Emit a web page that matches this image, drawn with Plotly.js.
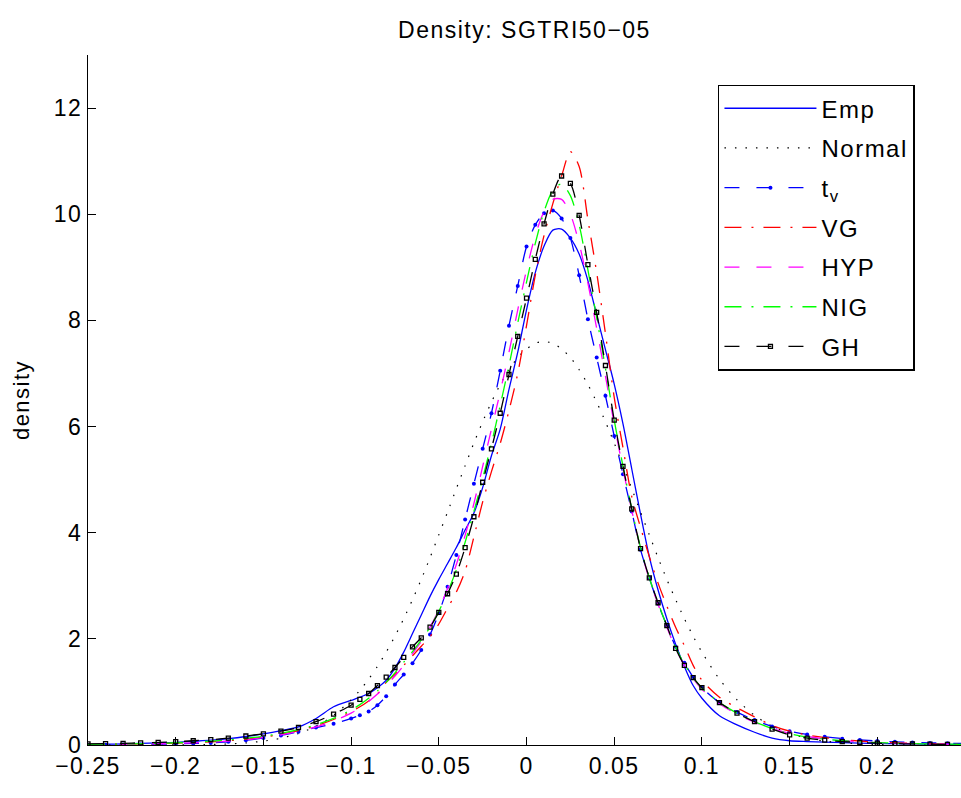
<!DOCTYPE html>
<html><head><meta charset="utf-8">
<script src="https://cdn.plot.ly/plotly-3.0.1.min.js"></script>
<style>
html,body{margin:0;padding:0;background:#fff;}
#chart{width:961px;height:798px;}
svg text{letter-spacing:1.5px;}
</style>
</head><body><div id="chart"></div>
<script>
const titleText = 'Density: SGTRI50\u221205';
const seriesNames = ['Emp', 'Normal', 't<sub>v</sub>', 'VG', 'HYP', 'NIG', 'GH'];

const xGrid = [-0.25,-0.24,-0.23,-0.22,-0.21,-0.20,-0.19,-0.18,-0.17,-0.16,-0.15,-0.14,-0.13,-0.12,-0.11,
  -0.10,-0.095,-0.09,-0.085,-0.08,-0.075,-0.07,-0.065,-0.06,-0.055,
  -0.05,-0.045,-0.04,-0.035,-0.03,-0.025,-0.02,-0.015,-0.01,-0.005,
  0,0.005,0.01,0.015,0.02,0.025,0.03,0.035,0.04,0.045,
  0.05,0.055,0.06,0.065,0.07,0.075,0.08,0.085,0.09,0.095,0.10,
  0.11,0.12,0.13,0.14,0.15,0.16,0.17,0.18,0.19,0.20,0.21,0.22,0.23,0.24,0.25];

const empY = [0.01,0.015,0.02,0.03,0.04,0.05,0.07,0.09,0.12,0.16,0.21,0.27,0.34,0.50,0.72,
  0.84,0.90,0.97,1.08,1.22,1.45,1.75,2.10,2.45,2.80,
  3.12,3.42,3.72,4.05,4.37,4.85,5.45,5.95,6.70,7.40,
  8.20,8.90,9.40,9.70,9.72,9.55,9.25,8.75,8.10,7.45,
  6.80,6.05,5.20,4.35,3.55,2.92,2.38,1.90,1.48,1.12,0.88,
  0.55,0.38,0.24,0.13,0.08,0.065,0.055,0.045,0.035,0.03,0.025,0.02,0.015,0.012,0.01];

const normalY = [0,0,0,0,0,0.003,0.005,0.011,0.021,0.04,0.073,0.128,0.217,0.354,0.558,
  0.85,1.03,1.24,1.48,1.75,2.05,2.38,2.74,3.12,3.53,
  3.96,4.39,4.83,5.26,5.69,6.09,6.46,6.79,7.07,7.30,
  7.46,7.57,7.60,7.57,7.46,7.30,7.07,6.79,6.46,6.09,
  5.69,5.26,4.83,4.39,3.96,3.53,3.12,2.74,2.38,2.05,1.75,
  1.24,0.85,0.558,0.354,0.217,0.128,0.073,0.04,0.021,0.011,0.005,0.003,0.001,0,0];

const tvY = [0.005,0.006,0.008,0.011,0.015,0.02,0.03,0.04,0.06,0.09,0.13,0.18,0.25,0.33,0.40,
  0.50,0.56,0.63,0.75,0.92,1.14,1.33,1.54,1.79,2.08,
  2.48,2.98,3.58,4.25,4.92,5.58,6.25,7.05,7.90,8.65,
  9.39,9.80,10.02,10.07,9.92,9.55,8.85,8.02,7.30,6.58,
  5.82,5.10,4.40,3.68,3.15,2.66,2.25,1.85,1.55,1.28,1.08,
  0.80,0.62,0.47,0.35,0.26,0.20,0.155,0.12,0.095,0.075,0.06,0.048,0.04,0.033,0.028];

const vgY = [0.01,0.012,0.016,0.02,0.026,0.034,0.045,0.06,0.08,0.11,0.15,0.20,0.27,0.36,0.48,
  0.63,0.72,0.83,0.96,1.18,1.33,1.50,1.68,1.86,2.04,
  2.28,2.58,2.88,3.28,3.92,4.58,5.15,5.68,6.30,7.00,
  7.90,8.85,9.60,10.20,10.72,11.18,10.90,9.90,8.90,7.75,
  6.55,5.60,4.68,4.10,3.55,3.05,2.62,2.22,1.87,1.50,1.22,
  0.90,0.70,0.53,0.37,0.26,0.19,0.14,0.10,0.075,0.055,0.04,0.03,0.022,0.016,0.012];

const hypY = [0.008,0.01,0.013,0.017,0.022,0.03,0.04,0.055,0.075,0.10,0.14,0.19,0.26,0.34,0.45,
  0.60,0.70,0.82,0.96,1.12,1.30,1.50,1.72,1.95,2.22,
  2.55,2.95,3.40,3.95,4.55,5.25,5.95,6.65,7.40,8.20,
  8.95,9.60,10.05,10.28,10.28,10.00,9.45,8.70,7.85,6.95,
  6.05,5.20,4.42,3.70,3.12,2.65,2.22,1.82,1.50,1.25,1.05,
  0.78,0.58,0.43,0.31,0.22,0.16,0.115,0.085,0.06,0.045,0.033,0.025,0.018,0.014,0.01];

const nigY = [0.012,0.015,0.019,0.025,0.032,0.042,0.055,0.072,0.095,0.125,0.165,0.22,0.29,0.38,0.50,
  0.66,0.76,0.88,1.02,1.18,1.36,1.56,1.76,1.98,2.22,
  2.52,2.88,3.30,3.82,4.40,5.02,5.68,6.40,7.15,7.95,
  8.72,9.45,10.05,10.45,10.57,10.35,9.80,8.95,8.05,7.10,
  6.12,5.25,4.45,3.72,3.15,2.68,2.24,1.84,1.52,1.27,1.07,
  0.80,0.60,0.44,0.31,0.21,0.15,0.11,0.08,0.06,0.045,0.034,0.026,0.02,0.015,0.012];

const ghY = [0.02,0.025,0.032,0.04,0.05,0.062,0.08,0.10,0.13,0.17,0.21,0.26,0.33,0.44,0.58,
  0.75,0.86,0.97,1.12,1.28,1.46,1.65,1.85,2.02,2.22,
  2.50,2.85,3.22,3.72,4.30,4.95,5.58,6.25,6.98,7.70,
  8.42,9.15,9.82,10.38,10.72,10.58,9.98,9.05,8.15,7.15,
  6.12,5.25,4.45,3.70,3.15,2.68,2.25,1.82,1.50,1.27,1.08,
  0.80,0.60,0.44,0.30,0.19,0.13,0.09,0.065,0.048,0.035,0.026,0.02,0.015,0.012,0.01];

const xTickVals = [-0.25,-0.2,-0.15,-0.1,-0.05,0,0.05,0.1,0.15,0.2];
const xTickText = ['\u22120.25','\u22120.2','\u22120.15','\u22120.1','\u22120.05','0','0.05','0.1','0.15','0.2'];
const yTickVals = [0,2,4,6,8,10,12];
const yTickText = ['0','2','4','6','8','10','12'];

const ys = [empY, normalY, tvY, vgY, hypY, nigY, ghY];
const styles = [
  {line: {color: '#0000ff', width: 1.3, dash: 'solid'}, mode: 'lines'},
  {line: {color: '#000000', width: 1.2, dash: '1.5px,9px'}, mode: 'lines'},
  {line: {color: '#0000ff', width: 1.3, dash: '15px,17px'}, mode: 'lines+markers', marker: {symbol: 'circle', size: 4, color: '#0000ff'}},
  {line: {color: '#ff0000', width: 1.3, dash: '17px,10px,2px,10px'}, mode: 'lines'},
  {line: {color: '#ff00ff', width: 1.3, dash: '15px,17px'}, mode: 'lines'},
  {line: {color: '#00ff00', width: 1.3, dash: '17px,10px,2px,10px'}, mode: 'lines'},
  {line: {color: '#000000', width: 1.3, dash: '15px,17px'}, mode: 'lines+markers', marker: {symbol: 'square-open', size: 4, color: '#000000', line: {width: 1.3, color: '#000000'}}}
];

const traces = seriesNames.map((name, i) => Object.assign({
  type: 'scatter', x: xGrid, y: ys[i], name: name, legendgroup: 'g' + i, cliponaxis: true
}, styles[i], {line: Object.assign({shape: 'spline', smoothing: 0.8}, styles[i].line)}));

const layout = {
  width: 961, height: 798,
  margin: {l: 88, r: 0, t: 55, b: 53, pad: 0},
  paper_bgcolor: '#ffffff', plot_bgcolor: '#ffffff',
  font: {family: '"Liberation Sans", Arial, Helvetica, sans-serif', size: 22, color: '#000'},
  title: {text: titleText, font: {size: 23, color: '#000'}, x: 0.5, xref: 'paper', xanchor: 'center',
          y: 1 - 30/798, yref: 'container', yanchor: 'middle'},
  xaxis: {range: [-0.25, 0.2477], tickmode: 'array', tickvals: xTickVals, ticktext: xTickText,
          ticks: 'inside', ticklen: 8, tickwidth: 1, tickcolor: '#000', showline: true, linecolor: '#000',
          linewidth: 1, showgrid: false, zeroline: false, tickfont: {size: 23}},
  yaxis: {range: [0, 13], tickmode: 'array', tickvals: yTickVals, ticktext: yTickText,
          ticks: 'inside', ticklen: 8, tickwidth: 1, tickcolor: '#000', showline: true, linecolor: '#000',
          linewidth: 1, showgrid: false, zeroline: false, tickfont: {size: 23},
          title: {text: 'density', font: {size: 22}, standoff: 18}},
  legend: {x: 0.7216, y: 0.957, xanchor: 'left', yanchor: 'top', bgcolor: '#ffffff', bordercolor: '#000',
           borderwidth: 1.5, font: {size: 24}, itemwidth: 92, tracegroupgap: 5.5, traceorder: 'grouped'},
  showlegend: true
};

Plotly.newPlot('chart', traces, layout, {staticPlot: true, displayModeBar: false});
</script>
</body></html>
